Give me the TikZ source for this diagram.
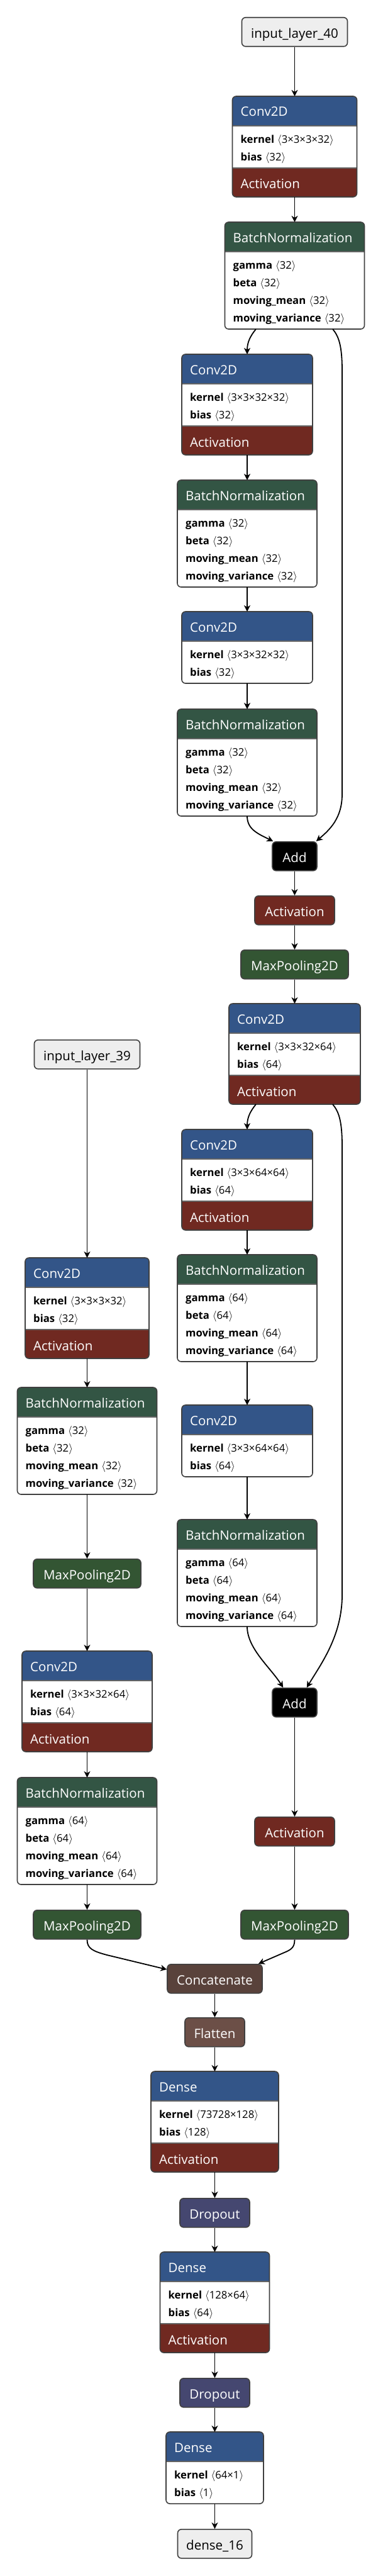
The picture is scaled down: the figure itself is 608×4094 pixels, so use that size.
\documentclass[tikz,border=0pt]{standalone}
\usepackage{fontspec}
\setmainfont{Open Sans}
\usetikzlibrary{arrows.meta}
\definecolor{convc}{RGB}{51,85,136}
\definecolor{actc}{RGB}{112,41,33}
\definecolor{bnc}{RGB}{51,85,68}
\definecolor{poolc}{RGB}{51,85,51}
\definecolor{catc}{RGB}{89,66,59}
\definecolor{flatc}{RGB}{108,79,71}
\definecolor{dropc}{RGB}{69,71,112}
\definecolor{inc}{RGB}{238,238,238}
\definecolor{bordc}{RGB}{64,64,64}
\definecolor{sepc}{RGB}{100,100,100}
\newcommand{\hfont}{\fontsize{20.5}{24}\selectfont}
\newcommand{\afont}{\fontsize{16.7}{20}\selectfont}
\tikzset{
  border/.style={draw=bordc, line width=1.6pt},
  sepline/.style={draw=sepc, line width=1.4pt},
  htext/.style={text=white, font=\hfont, inner sep=0pt},
  atext/.style={text=black, font=\afont, inner sep=0pt},
  simple/.style={rounded corners=6pt, draw=bordc, line width=1.6pt, minimum height=46pt, inner sep=0pt, anchor=north, text=white, font=\hfont, text height=26pt, text depth=6pt},
  inbox/.style={simple, fill=inc, text=black},
  edge/.style={draw=black, line width=1.8pt, -{Stealth[length=10pt, width=10pt, inset=3pt]}},
}
\newcommand{\mklayer}[8]{%
  \pgfmathsetmacro{\lbh}{11+28*#7}%
  \pgfmathsetmacro{\lh}{47+\lbh+46*#8}%
  \node[minimum width=#4pt, minimum height=\lh pt, anchor=north, inner sep=0pt, outer sep=0pt] (#1) at (#2,-#3) {};
  \begin{scope}
    \clip[rounded corners=6pt] (#1.north west) rectangle (#1.south east);
    \fill[white] (#1.north west) rectangle (#1.south east);
    \fill[#5] (#1.north west) rectangle ([yshift=-47pt]#1.north east);
    \ifnum#8=1\relax \fill[actc] ([yshift=46pt]#1.south west) rectangle (#1.south east);\fi
  \end{scope}
  \draw[sepline] ([yshift=-47pt]#1.north west) -- ([yshift=-47pt]#1.north east);
  \ifnum#8=1\relax \draw[sepline] ([yshift=46pt]#1.south west) -- ([yshift=46pt]#1.south east);\fi
  \draw[border, rounded corners=6pt] (#1.north west) rectangle (#1.south east);
  \node[htext, anchor=base west] at ([xshift=13pt, yshift=-32pt]#1.north west) {#6};
  \ifnum#8=1\relax \node[htext, anchor=base west] at ([xshift=13pt, yshift=13pt]#1.south west) {Activation};\fi
}
\newcommand{\mkattr}[4]{%
  \pgfmathsetmacro{\ay}{-(74.5+28*(#2-1))}%
  \node[atext, anchor=base west] at ([xshift=13pt, yshift=\ay pt]#1.north west) {\textbf{#3}\hspace{5pt}$\langle$#4$\rangle$};
}
\newcommand{\bnattrs}[2]{\mkattr{#1}{1}{gamma}{#2}\mkattr{#1}{2}{beta}{#2}\mkattr{#1}{3}{moving\_mean}{#2}\mkattr{#1}{4}{moving\_variance}{#2}}
\newcommand{\convattrs}[3]{\mkattr{#1}{1}{kernel}{#2}\mkattr{#1}{2}{bias}{#3}}
\begin{document}
\begin{tikzpicture}[x=1pt,y=1pt]
\fill[white] (0,0) rectangle (608,-4094);
\useasboundingbox (0,0) rectangle (608,-4094);

% right main column
\node[inbox, minimum width=168pt] (in40) at (468.5,-27) {input\_layer\_40};
\mklayer{c1}{468.5}{153}{198}{convc}{Conv2D}{2}{1}
\convattrs{c1}{3×3×3×32}{32}
\mklayer{bn1}{468.5}{353}{222}{bnc}{BatchNormalization}{4}{0}
\bnattrs{bn1}{32}
\mklayer{c2}{393}{563}{208}{convc}{Conv2D}{2}{1}
\convattrs{c2}{3×3×32×32}{32}
\mklayer{bn2}{393}{763}{222}{bnc}{BatchNormalization}{4}{0}
\bnattrs{bn2}{32}
\mklayer{c3}{393}{972}{208}{convc}{Conv2D}{2}{0}
\convattrs{c3}{3×3×32×32}{32}
\mklayer{bn3}{393}{1127}{222}{bnc}{BatchNormalization}{4}{0}
\bnattrs{bn3}{32}
\node[simple, fill=black, minimum width=71pt] (add1) at (468.5,-1337) {Add};
\node[simple, fill=actc, minimum width=127pt] (act1) at (468.5,-1423) {Activation};
\node[simple, fill=poolc, minimum width=171pt] (mp1) at (468.5,-1509) {MaxPooling2D};
\mklayer{c4}{468.5}{1595}{209}{convc}{Conv2D}{2}{1}
\convattrs{c4}{3×3×32×64}{64}
\mklayer{c5}{393}{1795}{208}{convc}{Conv2D}{2}{1}
\convattrs{c5}{3×3×64×64}{64}
\mklayer{bn4}{393}{1994}{222}{bnc}{BatchNormalization}{4}{0}
\bnattrs{bn4}{64}
\mklayer{c6}{393}{2233}{208}{convc}{Conv2D}{2}{0}
\convattrs{c6}{3×3×64×64}{64}
\mklayer{bn5}{393}{2415}{222}{bnc}{BatchNormalization}{4}{0}
\bnattrs{bn5}{64}
\node[simple, fill=black, minimum width=71pt] (add2) at (468.5,-2682) {Add};
\node[simple, fill=actc, minimum width=127pt] (act2) at (468.5,-2887) {Activation};
\node[simple, fill=poolc, minimum width=171pt] (mp2) at (468.5,-3035) {MaxPooling2D};

% left column
\node[inbox, minimum width=168pt] (in39) at (138.5,-1652) {input\_layer\_39};
\mklayer{lc1}{138.5}{1999}{197}{convc}{Conv2D}{2}{1}
\convattrs{lc1}{3×3×3×32}{32}
\mklayer{lbn1}{138.5}{2205}{222}{bnc}{BatchNormalization}{4}{0}
\bnattrs{lbn1}{32}
\node[simple, fill=poolc, minimum width=171pt] (lmp1) at (138.5,-2477) {MaxPooling2D};
\mklayer{lc2}{138.5}{2624}{207}{convc}{Conv2D}{2}{1}
\convattrs{lc2}{3×3×32×64}{64}
\mklayer{lbn2}{138.5}{2825}{222}{bnc}{BatchNormalization}{4}{0}
\bnattrs{lbn2}{64}
\node[simple, fill=poolc, minimum width=171pt] (lmp2) at (138.5,-3035) {MaxPooling2D};

% merged tail
\node[simple, fill=catc, minimum width=151pt] (cat) at (341.5,-3121) {Concatenate};
\node[simple, fill=flatc, minimum width=95pt] (flat) at (341.5,-3206) {Flatten};
\mklayer{d1}{341.5}{3292}{203}{convc}{Dense}{2}{1}
\convattrs{d1}{73728×128}{128}
\node[simple, fill=dropc, minimum width=111pt] (do1) at (341.5,-3493) {Dropout};
\mklayer{d2}{341.5}{3579}{174}{convc}{Dense}{2}{1}
\convattrs{d2}{128×64}{64}
\node[simple, fill=dropc, minimum width=111pt] (do2) at (341.5,-3779) {Dropout};
\mklayer{d3}{341.5}{3865}{155}{convc}{Dense}{2}{0}
\convattrs{d3}{64×1}{1}
\node[inbox, minimum width=118pt] (out) at (341.5,-4019) {dense\_16};

% straight edges
\foreach \a/\b in {in40/c1, c1/bn1, c2/bn2, bn2/c3, c3/bn3, add1/act1, act1/mp1, mp1/c4,
  c5/bn4, bn4/c6, c6/bn5, add2/act2, act2/mp2,
  in39/lc1, lc1/lbn1, lbn1/lmp1, lmp1/lc2, lc2/lbn2, lbn2/lmp2,
  cat/flat, flat/d1, d1/do1, do1/d2, d2/do2, do2/d3, d3/out}
  \draw[edge] (\a.south) -- (\b.north);

% curved edges
\draw[edge] ([xshift=-61.5pt]bn1.south) .. controls (398,-534) and (393,-544) .. (c2.north);
\draw[edge] ([xshift=60.5pt]bn1.south) .. controls (539,-535) and (544,-550) .. (544,-590) -- (544,-1262) .. controls (544,-1300) and (525,-1318) .. ([xshift=-2pt]add1.north east);
\draw[edge] (bn3.south) .. controls (393,-1318) and (410,-1325) .. ([xshift=2pt]add1.north west);
\draw[edge] ([xshift=-61.5pt]c4.south) .. controls (398,-1766) and (393,-1776) .. (c5.north);
\draw[edge] ([xshift=60.5pt]c4.south) .. controls (539,-1767) and (544,-1782) .. (544,-1822) -- (544,-2535) .. controls (544,-2600) and (510,-2645) .. ([xshift=-17pt]add2.north east);
\draw[edge] (bn5.south) .. controls (393,-2620) and (430,-2650) .. ([xshift=18pt]add2.north west);
\draw[edge] (lmp2.south) .. controls (138.5,-3097) and (148,-3101) .. (170,-3107) -- ([yshift=-9pt]cat.north west);
\draw[edge] (mp2.south) .. controls (468.5,-3096) and (462,-3099) .. (450,-3104) -- ([xshift=-7pt]cat.north east);
\end{tikzpicture}
\end{document}
